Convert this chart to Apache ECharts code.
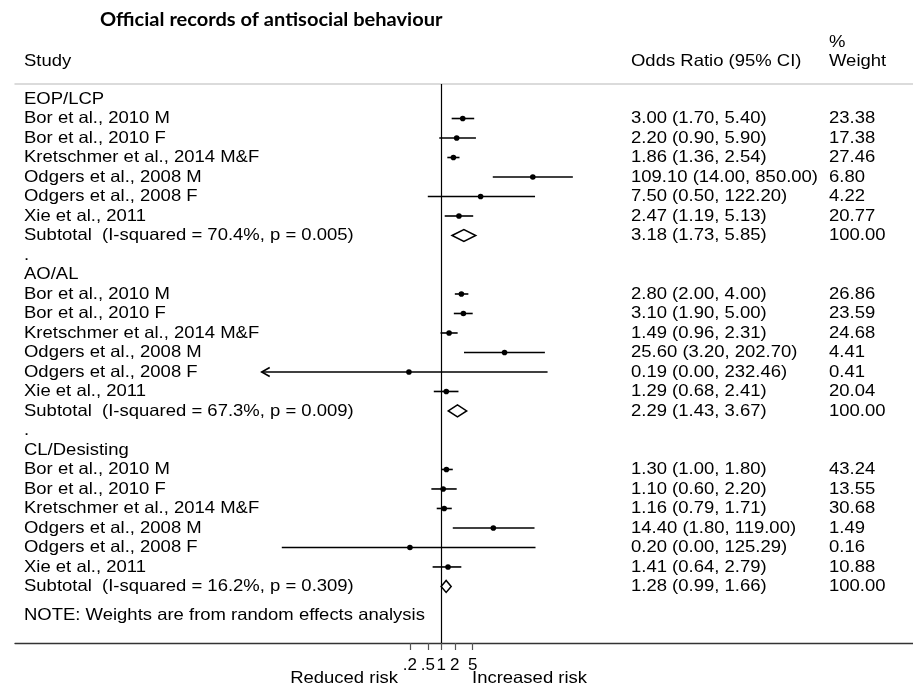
<!DOCTYPE html>
<html>
<head>
<meta charset="utf-8">
<title>Official records of antisocial behaviour</title>
<script src="https://cdn.jsdelivr.net/npm/echarts@6/dist/echarts.min.js"></script>
<style>
  html, body { margin: 0; padding: 0; background: #fff; }
  #chart { width: 913px; height: 688px; }
</style>
</head>
<body>
<div id="chart"></div>
<script>
// ---- data -------------------------------------------------------------
const groupNames = ['EOP/LCP', 'AO/AL', 'CL/Desisting'];
const studyNames = [
  'Bor et al., 2010 M',
  'Bor et al., 2010 F',
  'Kretschmer et al., 2014 M&F',
  'Odgers et al., 2008 M',
  'Odgers et al., 2008 F',
  'Xie et al., 2011'
];

const eopOR     = [3.00, 2.20, 1.86, 109.10, 7.50, 2.47];
const eopLower  = [1.70, 0.90, 1.36, 14.00, 0.50, 1.19];
const eopUpper  = [5.40, 5.90, 2.54, 850.00, 122.20, 5.13];
const eopWeight = [23.38, 17.38, 27.46, 6.80, 4.22, 20.77];
const eopSubtotal = [3.18, 1.73, 5.85];      // OR, lower, upper
const eopHeterogeneity = [70.4, 0.005];      // I-squared %, p

const aoOR     = [2.80, 3.10, 1.49, 25.60, 0.19, 1.29];
const aoLower  = [2.00, 1.90, 0.96, 3.20, 0.00004, 0.68];
const aoUpper  = [4.00, 5.00, 2.31, 202.70, 232.46, 2.41];
const aoWeight = [26.86, 23.59, 24.68, 4.41, 0.41, 20.04];
const aoSubtotal = [2.29, 1.43, 3.67];
const aoHeterogeneity = [67.3, 0.009];

const clOR     = [1.30, 1.10, 1.16, 14.40, 0.20, 1.41];
const clLower  = [1.00, 0.60, 0.79, 1.80, 0.00028, 0.64];
const clUpper  = [1.80, 2.20, 1.71, 119.00, 125.29, 2.79];
const clWeight = [43.24, 13.55, 30.68, 1.49, 0.16, 10.88];
const clSubtotal = [1.28, 0.99, 1.66];
const clHeterogeneity = [16.2, 0.309];

const subtotalWeight = 100;
const tickValues = [0.2, 0.5, 1, 2, 5];
const noteText = 'NOTE: Weights are from random effects analysis';

// ---- display settings ------------------------------------------------
const ciFloor = 0.0001;              // intervals below this end in an arrow
const axisRange = [3.2e-10, 3.2e10]; // odds-ratio span of the plot width
const textFont = '16.5px "Liberation Sans", Arial, sans-serif';
const textStretch = 1.12;
const columnX = [24, 631, 829];

const groups = [
  { name: groupNames[0], or: eopOR, lo: eopLower, hi: eopUpper, w: eopWeight, sub: eopSubtotal, het: eopHeterogeneity },
  { name: groupNames[1], or: aoOR,  lo: aoLower,  hi: aoUpper,  w: aoWeight,  sub: aoSubtotal,  het: aoHeterogeneity },
  { name: groupNames[2], or: clOR,  lo: clLower,  hi: clUpper,  w: clWeight,  sub: clSubtotal,  het: clHeterogeneity }
];

const fmtCI = (o, l, h) => `${o.toFixed(2)} (${l.toFixed(2)}, ${h.toFixed(2)})`;

// ---- build row layout ------------------------------------------------
const rowsPerGroup = studyNames.length + 3; // header, studies, subtotal, spacer
const textItems = [];
const ciItems = [];
let lastRow = 0;
groups.forEach((g, gi) => {
  const base = gi * rowsPerGroup;
  textItems.push({ row: base, col: 0, text: g.name });
  studyNames.forEach((s, i) => {
    const row = base + 1 + i;
    textItems.push({ row, col: 0, text: s });
    textItems.push({ row, col: 1, text: fmtCI(g.or[i], g.lo[i], g.hi[i]) });
    textItems.push({ row, col: 2, text: g.w[i].toFixed(2) });
    ciItems.push([Math.log(g.lo[i]), Math.log(g.hi[i]), Math.log(g.or[i]), row, 0]);
  });
  const subRow = base + 1 + studyNames.length;
  textItems.push({ row: subRow, col: 0,
    text: `Subtotal  (I-squared = ${g.het[0].toFixed(1)}%, p = ${g.het[1].toFixed(3)})` });
  textItems.push({ row: subRow, col: 1, text: fmtCI(g.sub[0], g.sub[1], g.sub[2]) });
  textItems.push({ row: subRow, col: 2, text: subtotalWeight.toFixed(2) });
  ciItems.push([Math.log(g.sub[1]), Math.log(g.sub[2]), Math.log(g.sub[0]), subRow, 1]);
  if (gi < groups.length - 1) textItems.push({ row: subRow + 1, col: 0, text: '.' });
  lastRow = subRow;
});
textItems.push({ row: lastRow + 1.5, col: 0, text: noteText });

const tickLabel = v => {
  const t = +Math.exp(v).toFixed(2);
  return String(t).replace(/^0\./, '.');
};

// ---- chart -----------------------------------------------------------
const chart = echarts.init(document.getElementById('chart'));
chart.setOption({
  animation: false,
  backgroundColor: '#fff',
  grid: { left: 15, right: 0, top: 84, bottom: 45 },
  xAxis: [
    {
      type: 'value',
      position: 'bottom',
      min: Math.log(axisRange[0]),
      max: Math.log(axisRange[1]),
      splitLine: { show: false },
      axisLine: { show: true, onZero: false, lineStyle: { color: '#333', width: 1.4 } },
      axisTick: {
        show: true, length: 7,
        customValues: tickValues.map(Math.log),
        lineStyle: { color: '#555', width: 1.2 }
      },
      axisLabel: {
        show: true,
        customValues: tickValues.map(Math.log),
        formatter: tickLabel,
        margin: 14,
        color: '#000',
        fontSize: 17,
        fontFamily: '"Liberation Sans", Arial, sans-serif'
      }
    },
    {
      type: 'value',
      position: 'top',
      min: Math.log(axisRange[0]),
      max: Math.log(axisRange[1]),
      splitLine: { show: false },
      axisLine: { show: true, onZero: false, lineStyle: { color: '#cfcfcf', width: 1.5 } },
      axisTick: { show: false },
      axisLabel: { show: false }
    }
  ],
  yAxis: {
    type: 'value',
    inverse: true,
    min: -0.77,
    max: 27.9,
    show: false,
    splitLine: { show: false }
  },
  graphic: [
    { type: 'text', x: 100, y: 20, scaleX: 1.055, style: { text: 'Official records of antisocial behaviour',
        font: 'bold 19px Lato, "Open Sans", sans-serif', fill: '#000',
        align: 'left', verticalAlign: 'middle', textAlign: 'left', textVerticalAlign: 'middle' } },
    { type: 'text', x: columnX[0], y: 61, scaleX: textStretch, style: { text: 'Study', font: textFont, fill: '#000',
        align: 'left', verticalAlign: 'middle', textAlign: 'left', textVerticalAlign: 'middle' } },
    { type: 'text', x: columnX[1], y: 61, scaleX: textStretch, style: { text: 'Odds Ratio (95% CI)', font: textFont, fill: '#000',
        align: 'left', verticalAlign: 'middle', textAlign: 'left', textVerticalAlign: 'middle' } },
    { type: 'text', x: columnX[2], y: 42, scaleX: textStretch, style: { text: '%', font: textFont, fill: '#000',
        align: 'left', verticalAlign: 'middle', textAlign: 'left', textVerticalAlign: 'middle' } },
    { type: 'text', x: columnX[2], y: 61, scaleX: textStretch, style: { text: 'Weight', font: textFont, fill: '#000',
        align: 'left', verticalAlign: 'middle', textAlign: 'left', textVerticalAlign: 'middle' } },
    { type: 'text', x: 398, y: 678, scaleX: textStretch, style: { text: 'Reduced risk', font: textFont, fill: '#000',
        align: 'right', verticalAlign: 'middle', textAlign: 'right', textVerticalAlign: 'middle' } },
    { type: 'text', x: 472, y: 678, scaleX: textStretch, style: { text: 'Increased risk', font: textFont, fill: '#000',
        align: 'left', verticalAlign: 'middle', textAlign: 'left', textVerticalAlign: 'middle' } }
  ],
  series: [
    {
      // null line at OR = 1
      type: 'line',
      data: [],
      markLine: {
        silent: true,
        symbol: 'none',
        label: { show: false },
        lineStyle: { color: '#000', width: 1.2, type: 'solid' },
        data: [{ xAxis: 0 }]
      }
    },
    {
      // study intervals and pooled diamonds
      type: 'custom',
      silent: true,
      clip: false,
      data: ciItems,
      renderItem(params, api) {
        const lo = api.value(0), hi = api.value(1), est = api.value(2);
        const row = api.value(3), kind = api.value(4);
        const floor = Math.log(ciFloor);
        const clipped = lo < floor;
        const pL = api.coord([clipped ? floor : lo, row]);
        const pH = api.coord([hi, row]);
        const pE = api.coord([est, row]);
        const y = pE[1];
        if (kind === 1) {
          return {
            type: 'polygon',
            shape: { points: [[pL[0], y], [pE[0], y - 6], [pH[0], y], [pE[0], y + 6]] },
            style: { fill: '#fff', stroke: '#000', lineWidth: 1.5 }
          };
        }
        const children = [
          { type: 'line', shape: { x1: pL[0], y1: y, x2: pH[0], y2: y },
            style: { stroke: '#000', lineWidth: 1.6 } },
          { type: 'circle', shape: { cx: pE[0], cy: y, r: 2.8 },
            style: { fill: '#000' } }
        ];
        if (clipped) {
          children.push({ type: 'polyline',
            shape: { points: [[pL[0] + 8, y - 4.5], [pL[0], y], [pL[0] + 8, y + 4.5]] },
            style: { stroke: '#000', lineWidth: 1.6, fill: null } });
        }
        return { type: 'group', children };
      }
    },
    {
      // text columns: study, odds ratio (95% CI), weight
      type: 'custom',
      silent: true,
      clip: false,
      data: textItems.map(t => [0, t.row]),
      renderItem(params, api) {
        const item = textItems[params.dataIndex];
        const y = api.coord([0, api.value(1)])[1];
        return {
          type: 'text',
          x: columnX[item.col],
          y: y,
          scaleX: textStretch,
          style: {
            text: item.text, font: textFont, fill: '#000',
            align: 'left', verticalAlign: 'middle',
            textAlign: 'left', textVerticalAlign: 'middle'
          }
        };
      }
    }
  ]
});
</script>
</body>
</html>
